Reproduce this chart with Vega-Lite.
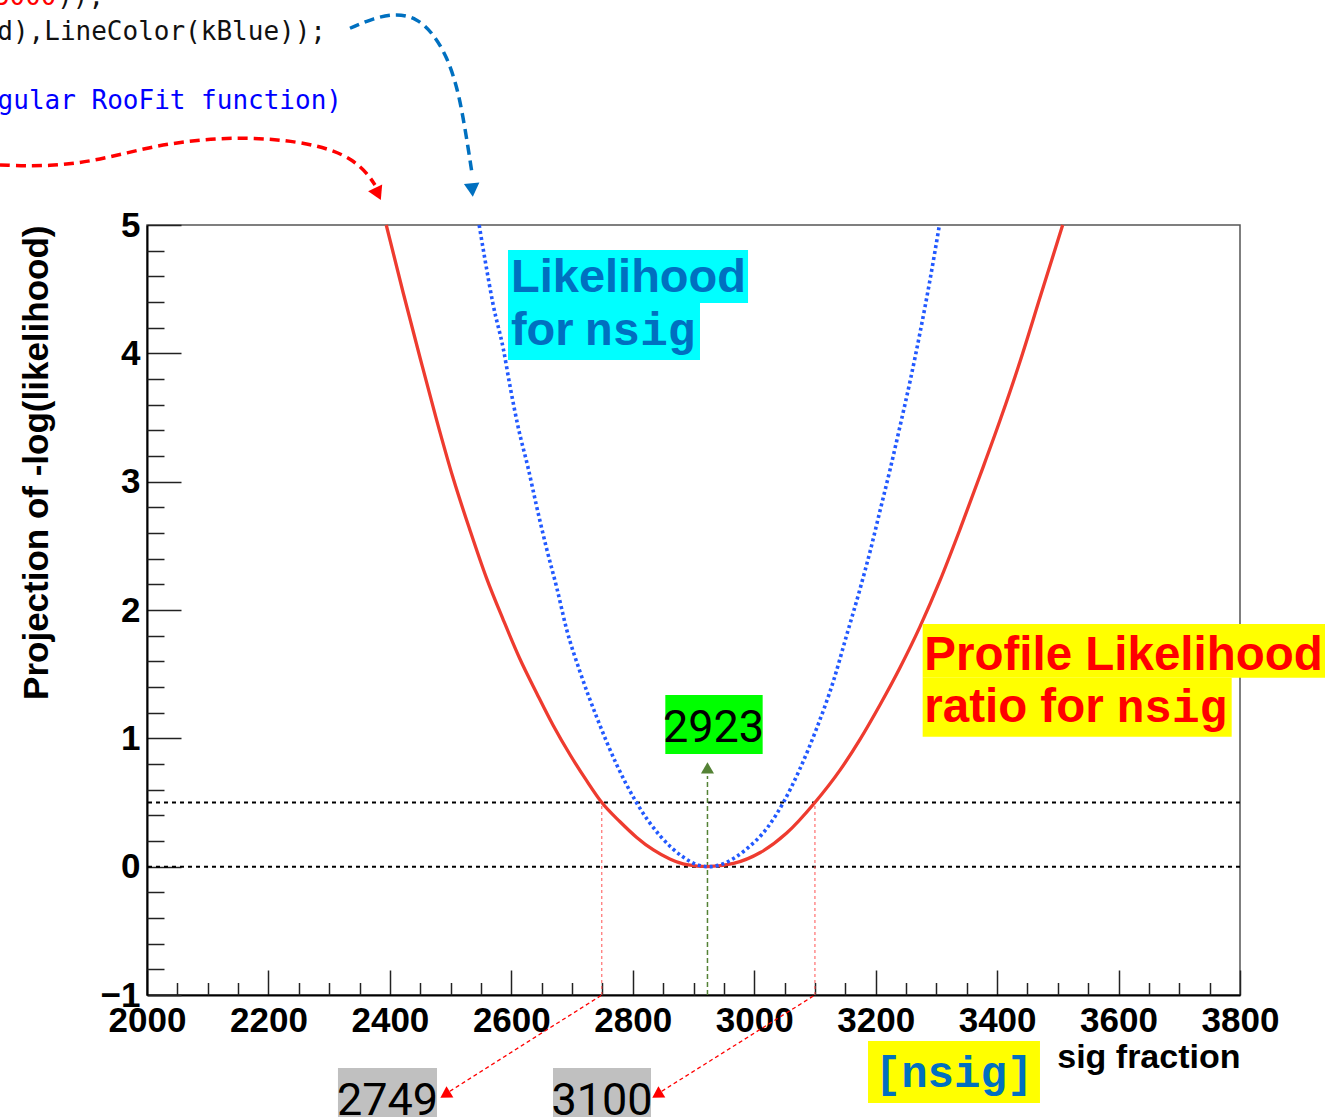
{
  "$schema": "https://vega.github.io/schema/vega-lite/v6.json",
  "width": 1093,
  "height": 770,
  "autosize": "none",
  "padding": {"left": 147, "top": 225, "right": 102, "bottom": 122},
  "background": "white",
  "config": {"view": {"stroke": "#555555", "strokeWidth": 1.5}},
  "datasets": {
    "red": [
      {"x": 2394, "y": 5.0}, {"x": 2422, "y": 4.47}, {"x": 2450, "y": 3.96}, {"x": 2477, "y": 3.48},
      {"x": 2504, "y": 3.03}, {"x": 2532, "y": 2.62}, {"x": 2559, "y": 2.25}, {"x": 2587, "y": 1.92},
      {"x": 2614, "y": 1.62}, {"x": 2642, "y": 1.35}, {"x": 2669, "y": 1.1}, {"x": 2697, "y": 0.87},
      {"x": 2724, "y": 0.67}, {"x": 2749, "y": 0.5}, {"x": 2779, "y": 0.35}, {"x": 2806, "y": 0.23},
      {"x": 2834, "y": 0.13}, {"x": 2861, "y": 0.06}, {"x": 2889, "y": 0.015}, {"x": 2923, "y": 0.0},
      {"x": 2966, "y": 0.025}, {"x": 3010, "y": 0.11}, {"x": 3053, "y": 0.26}, {"x": 3100, "y": 0.5},
      {"x": 3141, "y": 0.75}, {"x": 3174, "y": 0.99}, {"x": 3207, "y": 1.26}, {"x": 3240, "y": 1.55},
      {"x": 3273, "y": 1.87}, {"x": 3306, "y": 2.23}, {"x": 3339, "y": 2.63}, {"x": 3372, "y": 3.05},
      {"x": 3405, "y": 3.48}, {"x": 3438, "y": 3.94}, {"x": 3471, "y": 4.44}, {"x": 3508, "y": 5.0}
    ],
    "blue": [
      {"x": 2547, "y": 5.0}, {"x": 2557, "y": 4.72}, {"x": 2570, "y": 4.38}, {"x": 2587, "y": 4.03},
      {"x": 2598, "y": 3.74}, {"x": 2611, "y": 3.43}, {"x": 2628, "y": 3.1}, {"x": 2642, "y": 2.8},
      {"x": 2658, "y": 2.48}, {"x": 2675, "y": 2.17}, {"x": 2691, "y": 1.85}, {"x": 2713, "y": 1.52},
      {"x": 2741, "y": 1.16}, {"x": 2773, "y": 0.8}, {"x": 2806, "y": 0.5}, {"x": 2845, "y": 0.24},
      {"x": 2883, "y": 0.075}, {"x": 2906, "y": 0.015}, {"x": 2925, "y": 0.0}, {"x": 2944, "y": 0.015},
      {"x": 2968, "y": 0.07}, {"x": 2988, "y": 0.14}, {"x": 3021, "y": 0.3}, {"x": 3048, "y": 0.5},
      {"x": 3075, "y": 0.76}, {"x": 3103, "y": 1.08}, {"x": 3130, "y": 1.44}, {"x": 3152, "y": 1.8},
      {"x": 3174, "y": 2.16}, {"x": 3191, "y": 2.46}, {"x": 3207, "y": 2.77}, {"x": 3224, "y": 3.1},
      {"x": 3240, "y": 3.43}, {"x": 3257, "y": 3.79}, {"x": 3273, "y": 4.16}, {"x": 3289, "y": 4.56},
      {"x": 3305, "y": 5.0}
    ],
    "levels": [{"y": 0}, {"y": 0.5}],
    "bounds": [{"x": 2749, "y": -1, "y2": 0.5}, {"x": 3100, "y": -1, "y2": 0.5}],
    "best": [{"x": 2923, "y": -1, "y2": 0.706}],
    "bestHead": [{"x": 2923, "y": 0.77}],
    "pointers": [
      {"id": "lo", "x": 2749, "y": -1}, {"id": "lo", "x": 2489, "y": -1.779},
      {"id": "hi", "x": 3100, "y": -1}, {"id": "hi", "x": 2838, "y": -1.779}
    ],
    "pointerHeads": [{"x": 2491, "y": -1.778}, {"x": 2840, "y": -1.778}],
    "redArrow": [
      {"x": 1757.9, "y": 5.468}, {"x": 1840.3, "y": 5.454}, {"x": 1922.6, "y": 5.506},
      {"x": 2004.9, "y": 5.61}, {"x": 2087.3, "y": 5.668}, {"x": 2169.6, "y": 5.683},
      {"x": 2252.0, "y": 5.649}, {"x": 2306.3, "y": 5.584}, {"x": 2339.2, "y": 5.506},
      {"x": 2362.3, "y": 5.405}, {"x": 2375.5, "y": 5.312}
    ],
    "redArrowHead": [{"x": 2380.4, "y": 5.242}],
    "blueArrow": [
      {"x": 2334.3, "y": 6.533}, {"x": 2372.2, "y": 6.611}, {"x": 2411.7, "y": 6.65},
      {"x": 2444.6, "y": 6.611}, {"x": 2471.0, "y": 6.494}, {"x": 2494.1, "y": 6.311},
      {"x": 2510.5, "y": 6.078}, {"x": 2520.4, "y": 5.844}, {"x": 2528.6, "y": 5.61},
      {"x": 2535.2, "y": 5.403}
    ],
    "blueArrowHead": [{"x": 2535.6, "y": 5.273}],
    "cyanBoxes": [
      {"x": 2594.5, "x2": 2989.8, "y": 4.805, "y2": 4.392},
      {"x": 2594.5, "x2": 2910.7, "y": 4.392, "y2": 3.948}
    ],
    "yellowBoxes": [
      {"x": 3277.4, "x2": 3940, "y": 1.891, "y2": 1.472},
      {"x": 3277.4, "x2": 3786.3, "y": 1.472, "y2": 1.013},
      {"x": 3187.4, "x2": 3470.6, "y": -1.358, "y2": -1.842}
    ],
    "greenBox": [{"x": 2853.6, "x2": 3013.9, "y": 1.338, "y2": 0.878}],
    "grayBoxes": [
      {"x": 2314.5, "x2": 2477.6, "y": -1.569, "y2": -1.951},
      {"x": 2668.6, "x2": 2830, "y": -1.569, "y2": -1.951}
    ],
    "likeText": [{"x": 2599.4, "y": 4.478, "t": "Likelihood"}, {"x": 2599.4, "y": 4.065, "t": "for"}],
    "likeMono": [{"x": 2721.3, "y": 4.065, "t": "nsig"}],
    "profText": [{"x": 3280, "y": 1.532, "t": "Profile Likelihood"}, {"x": 3280, "y": 1.127, "t": "ratio for"}],
    "profMono": [{"x": 3597, "y": 1.127, "t": "nsig"}],
    "numbers": [
      {"x": 2933, "y": 0.971, "t": "2923"},
      {"x": 2396, "y": -1.935, "t": "2749"},
      {"x": 2749.3, "y": -1.935, "t": "3100"}
    ],
    "nsigLabel": [{"x": 3329, "y": -1.717, "t": "[nsig]"}],
    "codeBlack": [{"x": 2294.8, "y": 6.442, "t": "d),LineColor(kBlue));"}, {"x": 1852, "y": 6.714, "t": "));"}],
    "codeBlue": [{"x": 2321.1, "y": 5.904, "t": "gular RooFit function)"}],
    "codeRed": [{"x": 1851, "y": 6.714, "t": "3000"}]
  },
  "resolve": {"axis": {"x": "independent", "y": "independent"}},
  "layer": [
    {
      "data": {"name": "levels"},
      "mark": {"type": "rule", "color": "black", "strokeWidth": 2, "strokeDash": [4, 4]},
      "encoding": {"y": {"field": "y", "type": "quantitative", "axis": null}}
    },
    {
      "data": {"name": "bounds"},
      "mark": {"type": "rule", "color": "#ff5050", "strokeWidth": 1, "strokeDash": [3, 3]},
      "encoding": {
        "x": {"field": "x", "type": "quantitative", "axis": null},
        "y": {"field": "y", "type": "quantitative", "axis": null},
        "y2": {"field": "y2"}
      }
    },
    {
      "data": {"name": "best"},
      "mark": {"type": "rule", "color": "#548235", "strokeWidth": 1.5, "strokeDash": [5, 3]},
      "encoding": {
        "x": {"field": "x", "type": "quantitative", "axis": null},
        "y": {"field": "y", "type": "quantitative", "axis": null},
        "y2": {"field": "y2"}
      }
    },
    {
      "data": {"name": "bestHead"},
      "mark": {"type": "point", "shape": "triangle-up", "filled": true, "color": "#548235", "opacity": 1, "size": 170},
      "encoding": {
        "x": {"field": "x", "type": "quantitative", "axis": null},
        "y": {"field": "y", "type": "quantitative", "axis": null}
      }
    },
    {
      "data": {"name": "red"},
      "mark": {"type": "line", "color": "#ee3b2f", "strokeWidth": 3.3, "interpolate": "monotone"},
      "encoding": {
        "x": {
          "field": "x", "type": "quantitative",
          "scale": {"domain": [2000, 3800], "nice": false, "zero": false},
          "axis": {
            "orient": "bottom", "values": [2000, 2200, 2400, 2600, 2800, 3000, 3200, 3400, 3600, 3800],
            "format": "d", "grid": false, "labelFlush": false, "labelOverlap": false,
            "labelFont": "Liberation Sans", "labelFontWeight": "bold", "labelFontSize": 35, "labelColor": "black",
            "tickSize": -25, "tickColor": "#222222", "tickWidth": 1.5, "labelPadding": 33,
            "domainColor": "black", "domainWidth": 2,
            "title": "sig fraction", "titleFont": "Liberation Sans", "titleFontWeight": "bold", "titleFontSize": 34,
            "titleColor": "black", "titleAnchor": "end", "titleAlign": "right", "titleBaseline": "alphabetic",
            "titleX": 1093, "titleY": 72
          }
        },
        "y": {
          "field": "y", "type": "quantitative",
          "scale": {"domain": [-1, 5], "nice": false, "zero": false},
          "axis": {
            "orient": "left", "values": [-1, 0, 1, 2, 3, 4, 5], "format": "d", "grid": false,
            "labelFlush": false, "labelOverlap": false,
            "labelFont": "Liberation Sans", "labelFontWeight": "bold", "labelFontSize": 35, "labelColor": "black",
            "tickSize": -34, "tickColor": "#222222", "tickWidth": 1.5, "labelPadding": 41,
            "domainColor": "black", "domainWidth": 2,
            "title": "Projection of -log(likelihood)", "titleFont": "Liberation Sans", "titleFontWeight": "bold",
            "titleFontSize": 35, "titleColor": "black", "titleAnchor": "end", "titleAlign": "right",
            "titleAngle": 270, "titleBaseline": "alphabetic", "titleX": -100, "titleY": 0
          }
        }
      }
    },
    {
      "data": {"name": "blue"},
      "mark": {"type": "line", "color": "#2259ff", "strokeWidth": 3.6, "strokeDash": [3, 3], "interpolate": "monotone"},
      "encoding": {
        "x": {
          "field": "x", "type": "quantitative",
          "axis": {
            "orient": "bottom",
            "values": [2050, 2100, 2150, 2250, 2300, 2350, 2450, 2500, 2550, 2650, 2700, 2750, 2850, 2900, 2950, 3050, 3100, 3150, 3250, 3300, 3350, 3450, 3500, 3550, 3650, 3700, 3750],
            "labels": false, "domain": false, "grid": false, "title": null,
            "tickSize": -12.5, "tickColor": "#222222", "tickWidth": 1.5
          }
        },
        "y": {
          "field": "y", "type": "quantitative",
          "axis": {
            "orient": "left",
            "values": [-0.8, -0.6, -0.4, -0.2, 0.2, 0.4, 0.6, 0.8, 1.2, 1.4, 1.6, 1.8, 2.2, 2.4, 2.6, 2.8, 3.2, 3.4, 3.6, 3.8, 4.2, 4.4, 4.6, 4.8],
            "labels": false, "domain": false, "grid": false, "title": null,
            "tickSize": -17, "tickColor": "#222222", "tickWidth": 1.5
          }
        }
      }
    },
    {
      "data": {"name": "cyanBoxes"},
      "mark": {"type": "rect", "color": "#00ffff", "opacity": 1},
      "encoding": {
        "x": {"field": "x", "type": "quantitative", "axis": null}, "x2": {"field": "x2"},
        "y": {"field": "y", "type": "quantitative", "axis": null}, "y2": {"field": "y2"}
      }
    },
    {
      "data": {"name": "yellowBoxes"},
      "mark": {"type": "rect", "color": "#ffff00", "opacity": 1},
      "encoding": {
        "x": {"field": "x", "type": "quantitative", "axis": null}, "x2": {"field": "x2"},
        "y": {"field": "y", "type": "quantitative", "axis": null}, "y2": {"field": "y2"}
      }
    },
    {
      "data": {"name": "greenBox"},
      "mark": {"type": "rect", "color": "#00ff00", "opacity": 1},
      "encoding": {
        "x": {"field": "x", "type": "quantitative", "axis": null}, "x2": {"field": "x2"},
        "y": {"field": "y", "type": "quantitative", "axis": null}, "y2": {"field": "y2"}
      }
    },
    {
      "data": {"name": "grayBoxes"},
      "mark": {"type": "rect", "color": "#c0c0c0", "opacity": 1},
      "encoding": {
        "x": {"field": "x", "type": "quantitative", "axis": null}, "x2": {"field": "x2"},
        "y": {"field": "y", "type": "quantitative", "axis": null}, "y2": {"field": "y2"}
      }
    },
    {
      "data": {"name": "pointers"},
      "mark": {"type": "line", "color": "#ff0000", "strokeWidth": 1.3, "strokeDash": [4, 3]},
      "encoding": {
        "x": {"field": "x", "type": "quantitative", "axis": null},
        "y": {"field": "y", "type": "quantitative", "axis": null},
        "detail": {"field": "id"}
      }
    },
    {
      "data": {"name": "pointerHeads"},
      "mark": {"type": "point", "shape": "triangle-up", "filled": true, "color": "#ff0000", "opacity": 1, "size": 170, "angle": 238},
      "encoding": {
        "x": {"field": "x", "type": "quantitative", "axis": null},
        "y": {"field": "y", "type": "quantitative", "axis": null}
      }
    },
    {
      "data": {"name": "redArrow"},
      "mark": {"type": "line", "color": "#ff0000", "strokeWidth": 3.5, "strokeDash": [10, 6], "interpolate": "basis"},
      "encoding": {
        "x": {"field": "x", "type": "quantitative", "axis": null},
        "y": {"field": "y", "type": "quantitative", "axis": null}
      }
    },
    {
      "data": {"name": "redArrowHead"},
      "mark": {"type": "point", "shape": "triangle-up", "filled": true, "color": "#ff0000", "opacity": 1, "size": 240, "angle": 155},
      "encoding": {
        "x": {"field": "x", "type": "quantitative", "axis": null},
        "y": {"field": "y", "type": "quantitative", "axis": null}
      }
    },
    {
      "data": {"name": "blueArrow"},
      "mark": {"type": "line", "color": "#0070c0", "strokeWidth": 3.5, "strokeDash": [10, 6], "interpolate": "basis"},
      "encoding": {
        "x": {"field": "x", "type": "quantitative", "axis": null},
        "y": {"field": "y", "type": "quantitative", "axis": null}
      }
    },
    {
      "data": {"name": "blueArrowHead"},
      "mark": {"type": "point", "shape": "triangle-up", "filled": true, "color": "#0070c0", "opacity": 1, "size": 240, "angle": 175},
      "encoding": {
        "x": {"field": "x", "type": "quantitative", "axis": null},
        "y": {"field": "y", "type": "quantitative", "axis": null}
      }
    },
    {
      "data": {"name": "likeText"},
      "mark": {"type": "text", "font": "Liberation Sans", "fontWeight": "bold", "fontSize": 47, "color": "#0070c0", "align": "left", "baseline": "alphabetic"},
      "encoding": {
        "x": {"field": "x", "type": "quantitative", "axis": null},
        "y": {"field": "y", "type": "quantitative", "axis": null},
        "text": {"field": "t"}
      }
    },
    {
      "data": {"name": "likeMono"},
      "mark": {"type": "text", "font": "Liberation Mono", "fontWeight": "bold", "fontSize": 46, "color": "#0070c0", "align": "left", "baseline": "alphabetic"},
      "encoding": {
        "x": {"field": "x", "type": "quantitative", "axis": null},
        "y": {"field": "y", "type": "quantitative", "axis": null},
        "text": {"field": "t"}
      }
    },
    {
      "data": {"name": "profText"},
      "mark": {"type": "text", "font": "Liberation Sans", "fontWeight": "bold", "fontSize": 47.5, "color": "#ff0000", "align": "left", "baseline": "alphabetic"},
      "encoding": {
        "x": {"field": "x", "type": "quantitative", "axis": null},
        "y": {"field": "y", "type": "quantitative", "axis": null},
        "text": {"field": "t"}
      }
    },
    {
      "data": {"name": "profMono"},
      "mark": {"type": "text", "font": "Liberation Mono", "fontWeight": "bold", "fontSize": 46, "color": "#ff0000", "align": "left", "baseline": "alphabetic"},
      "encoding": {
        "x": {"field": "x", "type": "quantitative", "axis": null},
        "y": {"field": "y", "type": "quantitative", "axis": null},
        "text": {"field": "t"}
      }
    },
    {
      "data": {"name": "numbers"},
      "mark": {"type": "text", "font": "Roboto", "fontSize": 45, "color": "black", "align": "center", "baseline": "alphabetic"},
      "encoding": {
        "x": {"field": "x", "type": "quantitative", "axis": null},
        "y": {"field": "y", "type": "quantitative", "axis": null},
        "text": {"field": "t"}
      }
    },
    {
      "data": {"name": "nsigLabel"},
      "mark": {"type": "text", "font": "Liberation Mono", "fontWeight": "bold", "fontSize": 44, "color": "#0070c0", "align": "center", "baseline": "alphabetic"},
      "encoding": {
        "x": {"field": "x", "type": "quantitative", "axis": null},
        "y": {"field": "y", "type": "quantitative", "axis": null},
        "text": {"field": "t"}
      }
    },
    {
      "data": {"name": "codeBlack"},
      "transform": [{"filter": "datum.t != '));'"}],
      "mark": {"type": "text", "font": "DejaVu Sans Mono", "fontSize": 26, "color": "#111111", "align": "right", "baseline": "alphabetic"},
      "encoding": {
        "x": {"field": "x", "type": "quantitative", "axis": null},
        "y": {"field": "y", "type": "quantitative", "axis": null},
        "text": {"field": "t"}
      }
    },
    {
      "data": {"name": "codeBlack"},
      "transform": [{"filter": "datum.t == '));'"}],
      "mark": {"type": "text", "font": "DejaVu Sans Mono", "fontSize": 26, "color": "#111111", "align": "left", "baseline": "alphabetic"},
      "encoding": {
        "x": {"field": "x", "type": "quantitative", "axis": null},
        "y": {"field": "y", "type": "quantitative", "axis": null},
        "text": {"field": "t"}
      }
    },
    {
      "data": {"name": "codeBlue"},
      "mark": {"type": "text", "font": "DejaVu Sans Mono", "fontSize": 26, "color": "#0000ff", "align": "right", "baseline": "alphabetic"},
      "encoding": {
        "x": {"field": "x", "type": "quantitative", "axis": null},
        "y": {"field": "y", "type": "quantitative", "axis": null},
        "text": {"field": "t"}
      }
    },
    {
      "data": {"name": "codeRed"},
      "mark": {"type": "text", "font": "DejaVu Sans Mono", "fontSize": 26, "color": "#ff0000", "align": "right", "baseline": "alphabetic"},
      "encoding": {
        "x": {"field": "x", "type": "quantitative", "axis": null},
        "y": {"field": "y", "type": "quantitative", "axis": null},
        "text": {"field": "t"}
      }
    }
  ]
}
